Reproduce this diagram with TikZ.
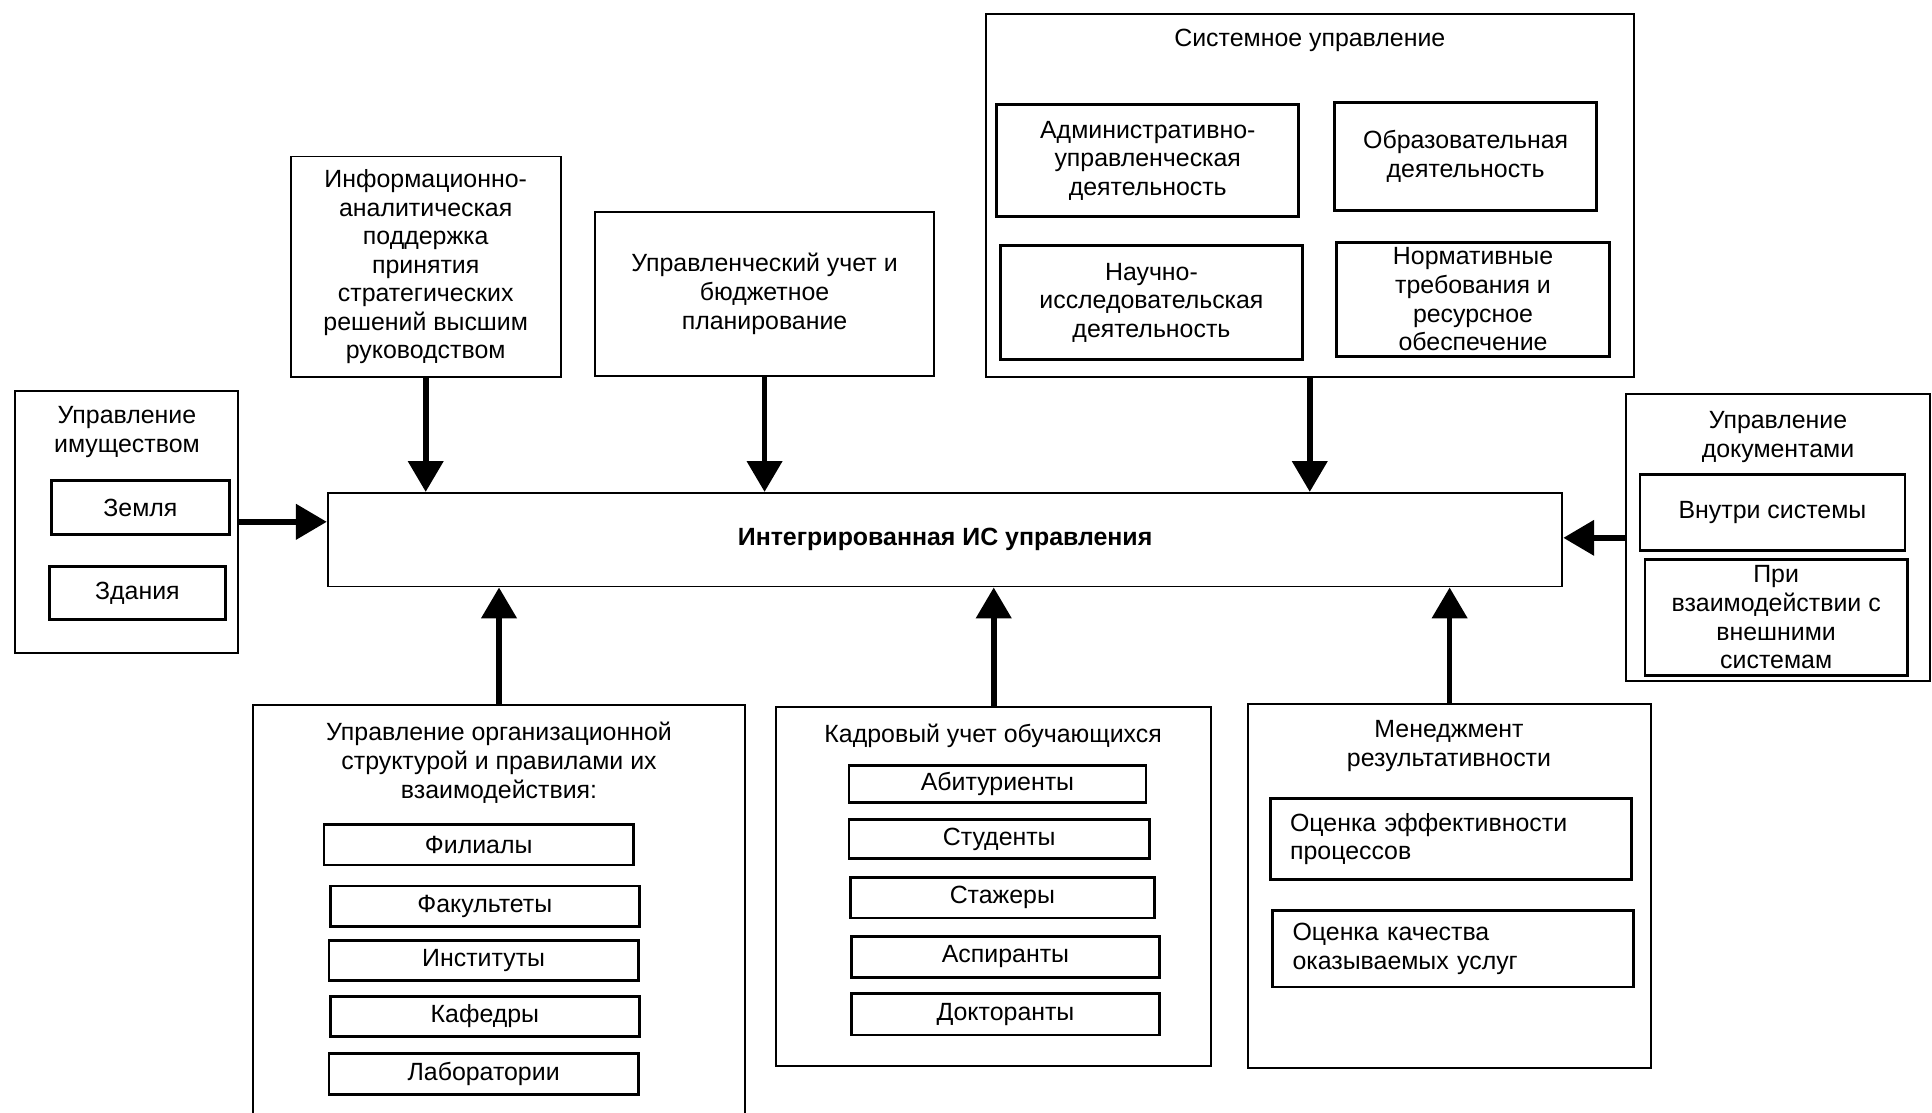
\documentclass[tikz,border=0pt]{standalone}
\usepackage{fontspec}
\setmainfont{Liberation Sans}
\usetikzlibrary{arrows.meta}
\begin{document}
\begin{tikzpicture}\tikzstyle{every node}=[font=\fontsize{11.5}{13.2}\selectfont]
\tikzstyle{grp}=[draw,line width=0.9pt,inner sep=0pt]
\tikzstyle{box}=[draw,line width=1.3pt,inner sep=0pt,align=center]
\tikzstyle{ttl}=[inner sep=0pt,align=center]
\tikzstyle{arr}=[line width=2.6pt,-{Triangle[length=5mm,width=5.6mm]}]
\useasboundingbox (0,0) rectangle (31.36,-18.06);
\clip (0,0) rectangle (31.36,-18.06);
% center
\node[box,line width=0.9pt,minimum width=20.04cm,minimum height=1.52cm,font=\fontsize{11.5}{13.2}\selectfont\bfseries] at (15.34,-8.76) (c) {Интегрированная ИС управления};
% top row
\node[grp,align=center,minimum width=4.38cm,minimum height=3.58cm] at (6.91,-4.33) (inf) {Информационно-\\аналитическая\\поддержка\\принятия\\стратегических\\решений высшим\\руководством};
\node[grp,align=center,minimum width=5.50cm,minimum height=2.66cm] at (12.41,-4.77) (uch) {Управленческий учет и\\бюджетное\\планирование};
\node[grp,minimum width=10.52cm,minimum height=5.90cm] at (21.26,-3.17) (sys) {};
\node[ttl] at (21.26,-0.66) (syst) {Системное управление};
\node[box,minimum width=4.90cm,minimum height=1.82cm] at (18.63,-2.61) (adm) {Административно-\\управленческая\\деятельность};
\node[box,minimum width=4.26cm,minimum height=1.76cm] at (23.79,-2.54) (obr) {Образовательная\\деятельность};
\node[box,minimum width=4.90cm,minimum height=1.86cm] at (18.69,-4.91) (nir) {Научно-\\исследовательская\\деятельность};
\node[box,minimum width=4.42cm,minimum height=1.84cm] at (23.91,-4.86) (norm) {Нормативные\\требования и\\ресурсное\\обеспечение};
% left and right
\node[grp,minimum width=3.62cm,minimum height=4.26cm] at (2.05,-8.47) (im) {};
\node[ttl] at (2.06,-7.01) (imt) {Управление\\имуществом};
\node[box,minimum width=2.88cm,minimum height=0.88cm] at (2.28,-8.24) (zem) {Земля};
\node[box,minimum width=2.86cm,minimum height=0.86cm] at (2.23,-9.63) (zd) {Здания};
\node[grp,minimum width=4.92cm,minimum height=4.66cm] at (28.86,-8.73) (doc) {};
\node[ttl] at (28.86,-7.09) (doct) {Управление\\документами};
\node[box,minimum width=4.30cm,minimum height=1.24cm] at (28.77,-8.32) (vn) {Внутри системы};
\node[box,minimum width=4.26cm,minimum height=1.88cm] at (28.83,-10.02) (vz) {При\\взаимодействии с\\внешними\\системам};
% bottom row
\node[grp,minimum width=8.00cm,minimum height=6.76cm] at (8.10,-14.82) (org) {};
\node[ttl] at (8.10,-12.38) (orgt) {Управление организационной\\структурой и правилами их\\взаимодействия:};
\node[box,minimum width=5.02cm,minimum height=0.66cm] at (7.77,-13.71) (fil) {Филиалы};
\node[box,minimum width=5.02cm,minimum height=0.66cm] at (7.87,-14.71) (fak) {Факультеты};
\node[box,minimum width=5.02cm,minimum height=0.66cm] at (7.85,-15.59) (inst) {Институты};
\node[box,minimum width=5.02cm,minimum height=0.66cm] at (7.87,-16.50) (kaf) {Кафедры};
\node[box,minimum width=5.02cm,minimum height=0.66cm] at (7.85,-17.43) (lab) {Лаборатории};
\node[grp,minimum width=7.06cm,minimum height=5.82cm] at (16.13,-14.39) (kad) {};
\node[ttl] at (16.12,-11.94) (kadt) {Кадровый учет обучающихся};
\node[box,minimum width=4.82cm,minimum height=0.60cm] at (16.19,-12.72) (ab) {Абитуриенты};
\node[box,minimum width=4.88cm,minimum height=0.64cm] at (16.22,-13.62) (st) {Студенты};
\node[box,minimum width=4.94cm,minimum height=0.66cm] at (16.27,-14.57) (stz) {Стажеры};
\node[box,minimum width=5.00cm,minimum height=0.66cm] at (16.32,-15.53) (asp) {Аспиранты};
\node[box,minimum width=5.00cm,minimum height=0.68cm] at (16.32,-16.46) (dok) {Докторанты};
\node[grp,minimum width=6.54cm,minimum height=5.92cm] at (23.53,-14.38) (men) {};
\node[ttl] at (23.52,-12.11) (ment) {Менеджмент\\результативности};
\node[box,align=left,inner xsep=0.32cm,text width=5.22cm,minimum height=1.32cm] at (23.55,-13.62) (oe) {Оценка эффективности\\процессов};
\node[box,align=left,inner xsep=0.32cm,text width=5.22cm,minimum height=1.24cm] at (23.59,-15.40) (ok) {Оценка качества\\оказываемых услуг};
% arrows
\draw[arr] (inf.south) -- (inf.south |- c.north);
\draw[arr] (uch.south) -- (uch.south |- c.north);
\draw[arr] (sys.south) -- (sys.south |- c.north);
\draw[arr] (im.east) -- (im.east -| c.west);
\draw[arr] (doc.west) -- (doc.west -| c.east);
\draw[arr] (org.north) -- (org.north |- c.south);
\draw[arr] (kad.north) -- (kad.north |- c.south);
\draw[arr] (men.north) -- (men.north |- c.south);
\end{tikzpicture}
\end{document}
